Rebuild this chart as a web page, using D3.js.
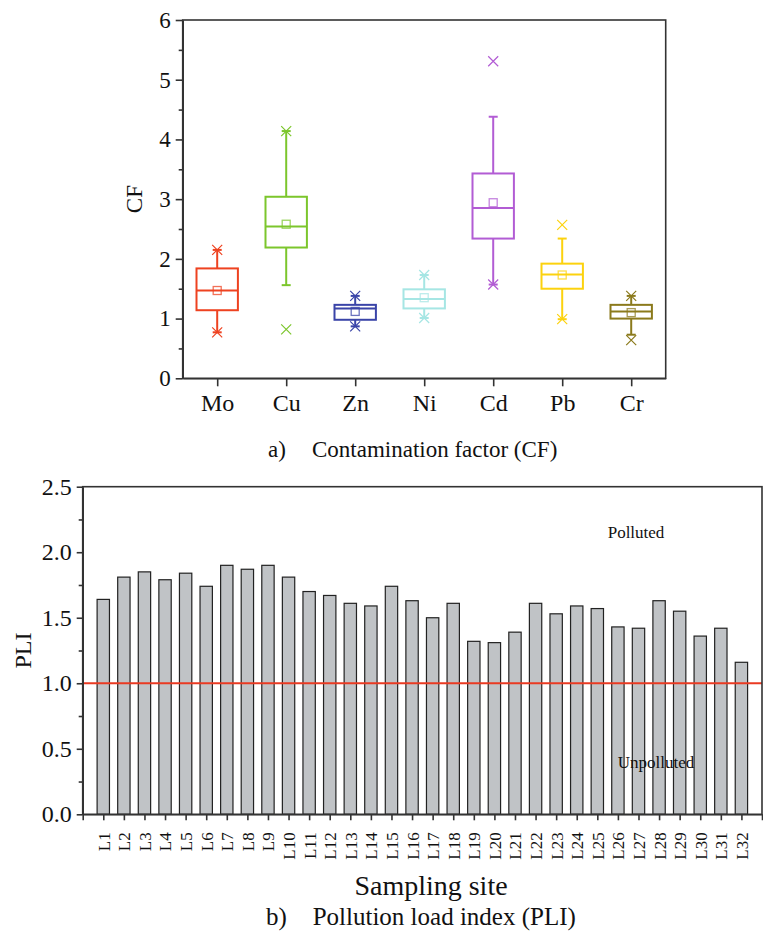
<!DOCTYPE html>
<html>
<head>
<meta charset="utf-8">
<script src="https://cdn.jsdelivr.net/npm/d3@7"></script>
<style>
  body { margin: 0; background: #fff; }
  svg { display: block; }
  .axis path, .axis line { stroke: #333; stroke-width: 1.6; }
  .axis text { fill: #111; }
</style>
</head>
<body>
<div id="chart"></div>
<script>
// DATA //

// a) contamination factor box plot
const elements = ["Mo", "Cu", "Zn", "Ni", "Cd", "Pb", "Cr"];
const colors = ["#ee4220", "#7cc62c", "#3a44a8", "#a6e6e4", "#b25cd4", "#fcd20e", "#8b7a1c"];
const q1 = [1.14, 2.19, 0.98, 1.17, 2.34, 1.50, 1.00];
const median = [1.47, 2.54, 1.17, 1.33, 2.85, 1.74, 1.12];
const q3 = [1.84, 3.04, 1.23, 1.49, 3.43, 1.92, 1.23];
const mean = [1.47, 2.58, 1.12, 1.35, 2.94, 1.73, 1.10];
const whiskerLow = [0.77, 1.56, 0.87, 1.01, 1.57, 0.99, 0.73];
const whiskerHigh = [2.15, 4.14, 1.38, 1.73, 4.38, 2.34, 1.38];
const crossMarks = [
  [0.77, 2.15], [0.82, 4.14], [0.87, 1.38], [1.01, 1.73],
  [1.57, 5.31], [0.99, 2.57], [0.64, 1.38]
];
const cfTicks = [0, 1, 2, 3, 4, 5, 6];

// b) pollution load index bars
const sites = d3.range(1, 33).map((i) => "L" + i);
const pli = [
  1.64, 1.81, 1.85, 1.79, 1.84, 1.74, 1.90, 1.87, 1.90, 1.81,
  1.70, 1.67, 1.61, 1.59, 1.74, 1.63, 1.50, 1.61, 1.32, 1.31,
  1.39, 1.61, 1.53, 1.59, 1.57, 1.43, 1.42, 1.63, 1.55, 1.36,
  1.42, 1.16
];
const pliTicks = [0, 0.5, 1.0, 1.5, 2.0, 2.5];
const threshold = 1.0;

// SVG //

const serif = "'Liberation Serif', 'Times New Roman', serif";
const width = 763;
const height = 935;
const svg = d3.select("#chart").append("svg")
  .attr("width", width)
  .attr("height", height)
  .attr("font-family", serif);

// TOP PANEL: BOX PLOT //

const cfBounds = { left: 182.7, right: 665.7, top: 20, bottom: 378.3 };

const xCF = d3.scalePoint()
  .domain(elements)
  .range([cfBounds.left, cfBounds.right])
  .padding(0.5);
const yCF = d3.scaleLinear().domain([0, 6]).range([cfBounds.bottom, cfBounds.top]);
const boxW = xCF.step() * 0.6;

// minor ticks
svg.append("g")
  .attr("class", "axis")
  .attr("transform", `translate(${cfBounds.left},0)`)
  .call(d3.axisLeft(yCF).tickValues(d3.range(0.5, 6, 1)).tickSize(4).tickFormat("").tickSizeOuter(0))
  .select(".domain").remove();

const yAxisCF = svg.append("g")
  .attr("class", "axis")
  .attr("transform", `translate(${cfBounds.left},0)`)
  .call(d3.axisLeft(yCF).tickValues(cfTicks).tickFormat(d3.format("d")).tickSize(7).tickPadding(5).tickSizeOuter(0))
  .attr("font-family", serif);
yAxisCF.selectAll("text").attr("font-size", 23);

const xAxisCF = svg.append("g")
  .attr("class", "axis")
  .attr("transform", `translate(0,${cfBounds.bottom})`)
  .call(d3.axisBottom(xCF).tickSize(8).tickPadding(6).tickSizeOuter(0))
  .attr("font-family", serif);
xAxisCF.selectAll("text").attr("font-size", 24).attr("dy", "0.8em");

// frame
svg.append("rect")
  .attr("x", cfBounds.left).attr("y", cfBounds.top)
  .attr("width", cfBounds.right - cfBounds.left).attr("height", cfBounds.bottom - cfBounds.top)
  .attr("fill", "none").attr("stroke", "#333").attr("stroke-width", 1.6);

svg.append("text")
  .attr("transform", `translate(134,${(cfBounds.top + cfBounds.bottom) / 2}) rotate(-90)`)
  .attr("text-anchor", "middle")
  .attr("dy", "0.35em")
  .attr("font-size", 23)
  .attr("fill", "#111")
  .text("CF");

const boxes = svg.append("g")
  .selectAll("g")
  .data(elements)
  .join("g")
  .attr("stroke", (d, i) => colors[i])
  .attr("fill", "none");

// whiskers
boxes.append("line")
  .attr("x1", (d) => xCF(d)).attr("x2", (d) => xCF(d))
  .attr("y1", (d, i) => yCF(whiskerHigh[i])).attr("y2", (d, i) => yCF(q3[i]))
  .attr("stroke-width", 2);
boxes.append("line")
  .attr("x1", (d) => xCF(d)).attr("x2", (d) => xCF(d))
  .attr("y1", (d, i) => yCF(q1[i])).attr("y2", (d, i) => yCF(whiskerLow[i]))
  .attr("stroke-width", 2);

// whisker caps
for (const key of ["low", "high"]) {
  boxes.append("line")
    .attr("x1", (d) => xCF(d) - 4.5).attr("x2", (d) => xCF(d) + 4.5)
    .attr("y1", (d, i) => yCF(key === "low" ? whiskerLow[i] : whiskerHigh[i]))
    .attr("y2", (d, i) => yCF(key === "low" ? whiskerLow[i] : whiskerHigh[i]))
    .attr("stroke-width", 2);
}

// box
boxes.append("rect")
  .attr("x", (d) => xCF(d) - boxW / 2)
  .attr("width", boxW)
  .attr("y", (d, i) => yCF(q3[i]))
  .attr("height", (d, i) => yCF(q1[i]) - yCF(q3[i]))
  .attr("stroke-width", 2);

// median
boxes.append("line")
  .attr("x1", (d) => xCF(d) - boxW / 2).attr("x2", (d) => xCF(d) + boxW / 2)
  .attr("y1", (d, i) => yCF(median[i])).attr("y2", (d, i) => yCF(median[i]))
  .attr("stroke-width", 2);

// mean square
boxes.append("rect")
  .attr("x", (d) => xCF(d) - 4)
  .attr("y", (d, i) => yCF(mean[i]) - 4)
  .attr("width", 8).attr("height", 8)
  .attr("stroke-width", 1.3)
  .attr("stroke-opacity", 0.75);

// cross marks (1% / 99%, outliers)
boxes.each(function (d, i) {
  const g = d3.select(this);
  crossMarks[i].forEach((v) => {
    const cx = xCF(d);
    const cy = yCF(v);
    g.append("path")
      .attr("d", `M${cx - 5},${cy - 5}L${cx + 5},${cy + 5}M${cx - 5},${cy + 5}L${cx + 5},${cy - 5}`)
      .attr("stroke-width", 1.2);
  });
});

// caption a
svg.append("text").attr("x", 268).attr("y", 457).attr("font-size", 23).attr("fill", "#111").text("a)");
svg.append("text").attr("x", 312).attr("y", 457).attr("font-size", 23).attr("fill", "#111")
  .text("Contamination factor (CF)");

// BOTTOM PANEL: BAR CHART //

const pliBounds = { left: 82.7, right: 762, top: 486.7, bottom: 814.3 };

const xPLI = d3.scaleLinear().domain([0, 33]).range([pliBounds.left, pliBounds.right]);
const yPLI = d3.scaleLinear().domain([0, 2.5]).range([pliBounds.bottom, pliBounds.top]);
const barW = (xPLI(1) - xPLI(0)) * 0.6;

svg.append("g")
  .selectAll("rect")
  .data(pli)
  .join("rect")
  .attr("x", (d, i) => xPLI(i + 1) - barW / 2)
  .attr("width", barW)
  .attr("y", (d) => yPLI(d))
  .attr("height", (d) => yPLI(0) - yPLI(d))
  .attr("fill", "#c0c3c6")
  .attr("stroke", "#222")
  .attr("stroke-width", 1.2);

// threshold line
svg.append("line")
  .attr("x1", pliBounds.left).attr("x2", pliBounds.right)
  .attr("y1", yPLI(threshold)).attr("y2", yPLI(threshold))
  .attr("stroke", "#ea3a22").attr("stroke-width", 2);

// minor ticks
svg.append("g")
  .attr("class", "axis")
  .attr("transform", `translate(${pliBounds.left},0)`)
  .call(d3.axisLeft(yPLI).tickValues(d3.range(0.25, 2.5, 0.5)).tickSize(4).tickFormat("").tickSizeOuter(0))
  .select(".domain").remove();

const yAxisPLI = svg.append("g")
  .attr("class", "axis")
  .attr("transform", `translate(${pliBounds.left},0)`)
  .call(d3.axisLeft(yPLI).tickValues(pliTicks).tickFormat(d3.format(".1f")).tickSize(6).tickPadding(5).tickSizeOuter(0))
  .attr("font-family", serif);
yAxisPLI.selectAll("text").attr("font-size", 24);

const xAxisPLI = svg.append("g")
  .attr("class", "axis")
  .attr("transform", `translate(0,${pliBounds.bottom})`)
  .call(d3.axisBottom(xPLI).tickValues(d3.range(0, 34)).tickSize(6).tickSizeOuter(0)
    .tickFormat((d) => (d >= 1 && d <= 32 ? sites[d - 1] : "")))
  .attr("font-family", serif);
xAxisPLI.selectAll("text")
  .attr("font-size", 17)
  .attr("text-anchor", "end")
  .attr("transform", "rotate(-90)")
  .attr("x", -18)
  .attr("y", 0)
  .attr("dy", "0.35em");

// frame
svg.append("rect")
  .attr("x", pliBounds.left).attr("y", pliBounds.top)
  .attr("width", pliBounds.right - pliBounds.left).attr("height", pliBounds.bottom - pliBounds.top)
  .attr("fill", "none").attr("stroke", "#333").attr("stroke-width", 1.6);

svg.append("text")
  .attr("transform", `translate(23,${yPLI(1.25)}) rotate(-90)`)
  .attr("text-anchor", "middle")
  .attr("dy", "0.35em")
  .attr("font-size", 24)
  .attr("fill", "#111")
  .text("PLI");

svg.append("text").attr("x", 607.7).attr("y", 537.7).attr("font-size", 17).attr("fill", "#111").text("Polluted");
svg.append("text").attr("x", 617.7).attr("y", 768.3).attr("font-size", 17).attr("fill", "#111").text("Unpolluted");

svg.append("text")
  .attr("x", 431).attr("y", 895)
  .attr("text-anchor", "middle")
  .attr("font-size", 28)
  .attr("fill", "#111")
  .text("Sampling site");

// caption b
svg.append("text").attr("x", 266).attr("y", 925).attr("font-size", 25).attr("fill", "#111").text("b)");
svg.append("text").attr("x", 312.7).attr("y", 925).attr("font-size", 25).attr("fill", "#111")
  .text("Pollution load index (PLI)");
</script>
</body>
</html>
